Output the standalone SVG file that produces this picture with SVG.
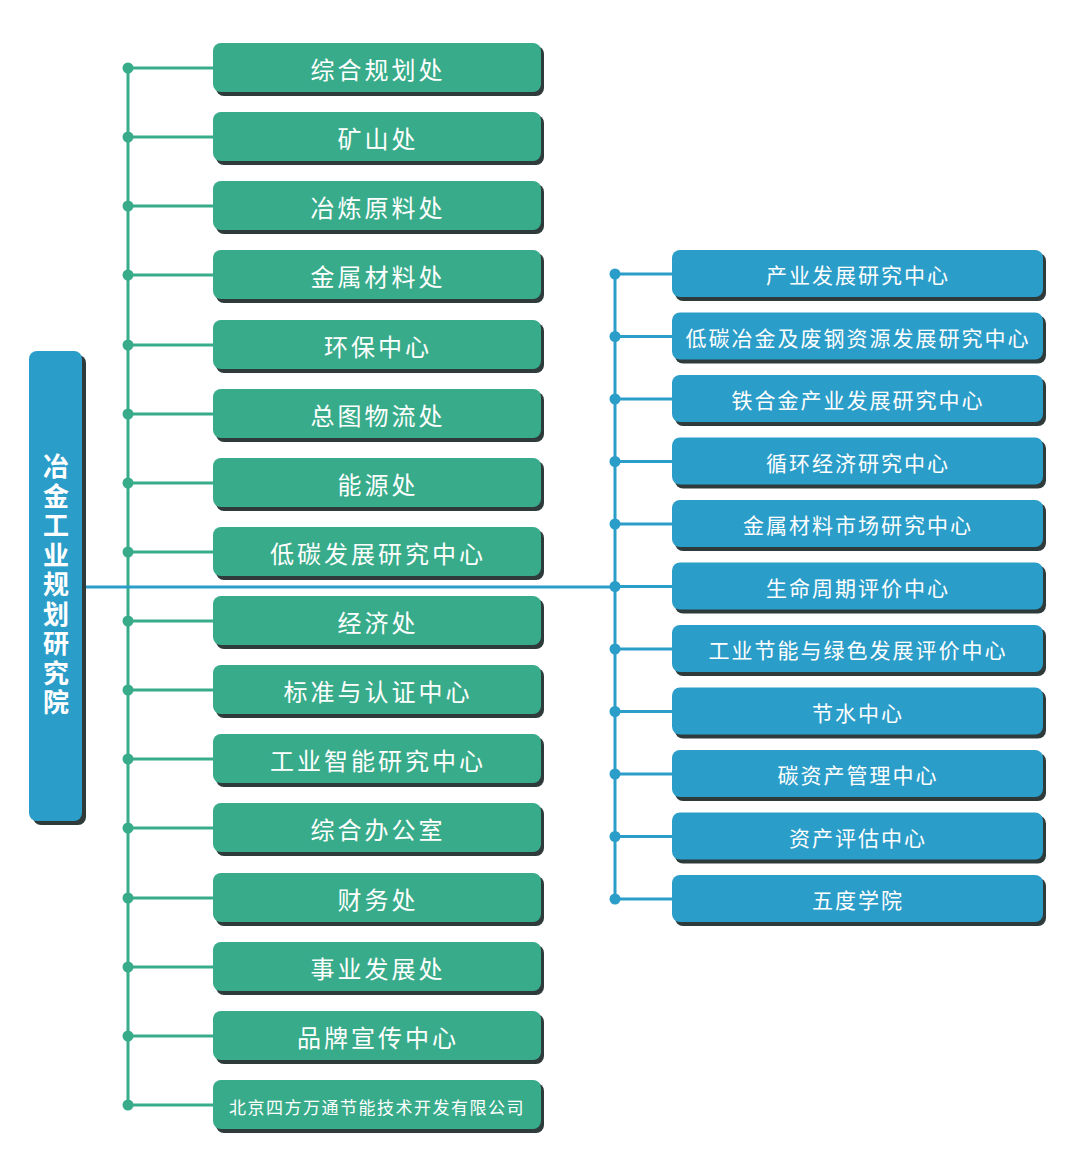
<svg xmlns="http://www.w3.org/2000/svg" width="1080" height="1176" viewBox="0 0 1080 1176">
<defs><style>
.g{fill:#38ac8a}.b{fill:#2b9dc9}.sh{fill:#2e3b3a}
.t{font-family:"Noto Sans CJK SC",sans-serif;fill:#fff;font-size:24px;text-anchor:middle;dominant-baseline:central;letter-spacing:3px}
.tb{font-size:21px;letter-spacing:2px}
.lg{stroke:#38ac8a;stroke-width:3;fill:none}.lb{stroke:#2b9dc9;stroke-width:3;fill:none}
.dg{fill:#38ac8a}.db{fill:#2b9dc9}
</style></defs>
<rect width="1080" height="1176" fill="#fff"/>
<g id="connectors">
<path class="lg" d="M128 68V1105M128 68H213M128 137H213M128 206H213M128 275H213M128 345H213M128 414H213M128 483H213M128 552H213M128 621H213M128 690H213M128 759H213M128 828H213M128 898H213M128 967H213M128 1036H213M128 1105H213"/>
<path class="lb" d="M84 587H615M615 274V899M615 274H672M615 336.5H672M615 399H672M615 461.5H672M615 524H672M615 586.5H672M615 649H672M615 711.5H672M615 774H672M615 836.5H672M615 899H672"/>
<g class="dg"><circle cx="128" cy="68" r="5.5"/><circle cx="128" cy="137" r="5.5"/><circle cx="128" cy="206" r="5.5"/><circle cx="128" cy="275" r="5.5"/><circle cx="128" cy="345" r="5.5"/><circle cx="128" cy="414" r="5.5"/><circle cx="128" cy="483" r="5.5"/><circle cx="128" cy="552" r="5.5"/><circle cx="128" cy="621" r="5.5"/><circle cx="128" cy="690" r="5.5"/><circle cx="128" cy="759" r="5.5"/><circle cx="128" cy="828" r="5.5"/><circle cx="128" cy="898" r="5.5"/><circle cx="128" cy="967" r="5.5"/><circle cx="128" cy="1036" r="5.5"/><circle cx="128" cy="1105" r="5.5"/></g>
<g class="db"><circle cx="615" cy="274" r="5.5"/><circle cx="615" cy="336.5" r="5.5"/><circle cx="615" cy="399" r="5.5"/><circle cx="615" cy="461.5" r="5.5"/><circle cx="615" cy="524" r="5.5"/><circle cx="615" cy="586.5" r="5.5"/><circle cx="615" cy="649" r="5.5"/><circle cx="615" cy="711.5" r="5.5"/><circle cx="615" cy="774" r="5.5"/><circle cx="615" cy="836.5" r="5.5"/><circle cx="615" cy="899" r="5.5"/></g>
</g>
<g id="root"><rect class="sh" x="33" y="355" width="53" height="470" rx="8"/><rect class="b" x="29" y="351" width="53" height="470" rx="8"/>
<text class="t" x="56" y="586" style="writing-mode:vertical-rl;font-weight:bold;font-size:26px;letter-spacing:3.5px">冶金工业规划研究院</text></g>
<g id="g1"><rect class="sh" x="216" y="46" width="328" height="50" rx="8"/><rect class="g" x="213" y="43" width="328" height="49" rx="8"/><text class="t" x="378" y="68">综合规划处</text></g>
<g id="g2"><rect class="sh" x="216" y="115" width="328" height="50" rx="8"/><rect class="g" x="213" y="112" width="328" height="49" rx="8"/><text class="t" x="378" y="137">矿山处</text></g>
<g id="g3"><rect class="sh" x="216" y="184" width="328" height="50" rx="8"/><rect class="g" x="213" y="181" width="328" height="49" rx="8"/><text class="t" x="378" y="206">冶炼原料处</text></g>
<g id="g4"><rect class="sh" x="216" y="253" width="328" height="50" rx="8"/><rect class="g" x="213" y="250" width="328" height="49" rx="8"/><text class="t" x="378" y="275">金属材料处</text></g>
<g id="g5"><rect class="sh" x="216" y="323" width="328" height="50" rx="8"/><rect class="g" x="213" y="320" width="328" height="49" rx="8"/><text class="t" x="378" y="345">环保中心</text></g>
<g id="g6"><rect class="sh" x="216" y="392" width="328" height="50" rx="8"/><rect class="g" x="213" y="389" width="328" height="49" rx="8"/><text class="t" x="378" y="414">总图物流处</text></g>
<g id="g7"><rect class="sh" x="216" y="461" width="328" height="50" rx="8"/><rect class="g" x="213" y="458" width="328" height="49" rx="8"/><text class="t" x="378" y="483">能源处</text></g>
<g id="g8"><rect class="sh" x="216" y="530" width="328" height="50" rx="8"/><rect class="g" x="213" y="527" width="328" height="49" rx="8"/><text class="t" x="378" y="552">低碳发展研究中心</text></g>
<g id="g9"><rect class="sh" x="216" y="599" width="328" height="50" rx="8"/><rect class="g" x="213" y="596" width="328" height="49" rx="8"/><text class="t" x="378" y="621">经济处</text></g>
<g id="g10"><rect class="sh" x="216" y="668" width="328" height="50" rx="8"/><rect class="g" x="213" y="665" width="328" height="49" rx="8"/><text class="t" x="378" y="690">标准与认证中心</text></g>
<g id="g11"><rect class="sh" x="216" y="737" width="328" height="50" rx="8"/><rect class="g" x="213" y="734" width="328" height="49" rx="8"/><text class="t" x="378" y="759">工业智能研究中心</text></g>
<g id="g12"><rect class="sh" x="216" y="806" width="328" height="50" rx="8"/><rect class="g" x="213" y="803" width="328" height="49" rx="8"/><text class="t" x="378" y="828">综合办公室</text></g>
<g id="g13"><rect class="sh" x="216" y="876" width="328" height="50" rx="8"/><rect class="g" x="213" y="873" width="328" height="49" rx="8"/><text class="t" x="378" y="898">财务处</text></g>
<g id="g14"><rect class="sh" x="216" y="945" width="328" height="50" rx="8"/><rect class="g" x="213" y="942" width="328" height="49" rx="8"/><text class="t" x="378" y="967">事业发展处</text></g>
<g id="g15"><rect class="sh" x="216" y="1014" width="328" height="50" rx="8"/><rect class="g" x="213" y="1011" width="328" height="49" rx="8"/><text class="t" x="378" y="1036">品牌宣传中心</text></g>
<g id="g16"><rect class="sh" x="216" y="1083" width="328" height="50" rx="8"/><rect class="g" x="213" y="1080" width="328" height="49" rx="8"/><text class="t" x="377" y="1106" style="font-size:17px;letter-spacing:1.5px">北京四方万通节能技术开发有限公司</text></g>
<g id="b1"><rect class="sh" x="675" y="253" width="371" height="48" rx="8"/><rect class="b" x="672" y="250" width="371" height="47" rx="8"/><text class="t tb" x="858" y="274">产业发展研究中心</text></g>
<g id="b2"><rect class="sh" x="675" y="315.5" width="371" height="48" rx="8"/><rect class="b" x="672" y="312.5" width="371" height="47" rx="8"/><text class="t tb" x="858" y="336.5">低碳冶金及废钢资源发展研究中心</text></g>
<g id="b3"><rect class="sh" x="675" y="378" width="371" height="48" rx="8"/><rect class="b" x="672" y="375" width="371" height="47" rx="8"/><text class="t tb" x="858" y="399">铁合金产业发展研究中心</text></g>
<g id="b4"><rect class="sh" x="675" y="440.5" width="371" height="48" rx="8"/><rect class="b" x="672" y="437.5" width="371" height="47" rx="8"/><text class="t tb" x="858" y="461.5">循环经济研究中心</text></g>
<g id="b5"><rect class="sh" x="675" y="503" width="371" height="48" rx="8"/><rect class="b" x="672" y="500" width="371" height="47" rx="8"/><text class="t tb" x="858" y="524">金属材料市场研究中心</text></g>
<g id="b6"><rect class="sh" x="675" y="565.5" width="371" height="48" rx="8"/><rect class="b" x="672" y="562.5" width="371" height="47" rx="8"/><text class="t tb" x="858" y="586.5">生命周期评价中心</text></g>
<g id="b7"><rect class="sh" x="675" y="628" width="371" height="48" rx="8"/><rect class="b" x="672" y="625" width="371" height="47" rx="8"/><text class="t tb" x="858" y="649">工业节能与绿色发展评价中心</text></g>
<g id="b8"><rect class="sh" x="675" y="690.5" width="371" height="48" rx="8"/><rect class="b" x="672" y="687.5" width="371" height="47" rx="8"/><text class="t tb" x="858" y="711.5">节水中心</text></g>
<g id="b9"><rect class="sh" x="675" y="753" width="371" height="48" rx="8"/><rect class="b" x="672" y="750" width="371" height="47" rx="8"/><text class="t tb" x="858" y="774">碳资产管理中心</text></g>
<g id="b10"><rect class="sh" x="675" y="815.5" width="371" height="48" rx="8"/><rect class="b" x="672" y="812.5" width="371" height="47" rx="8"/><text class="t tb" x="858" y="836.5">资产评估中心</text></g>
<g id="b11"><rect class="sh" x="675" y="878" width="371" height="48" rx="8"/><rect class="b" x="672" y="875" width="371" height="47" rx="8"/><text class="t tb" x="858" y="899">五度学院</text></g>
</svg>
